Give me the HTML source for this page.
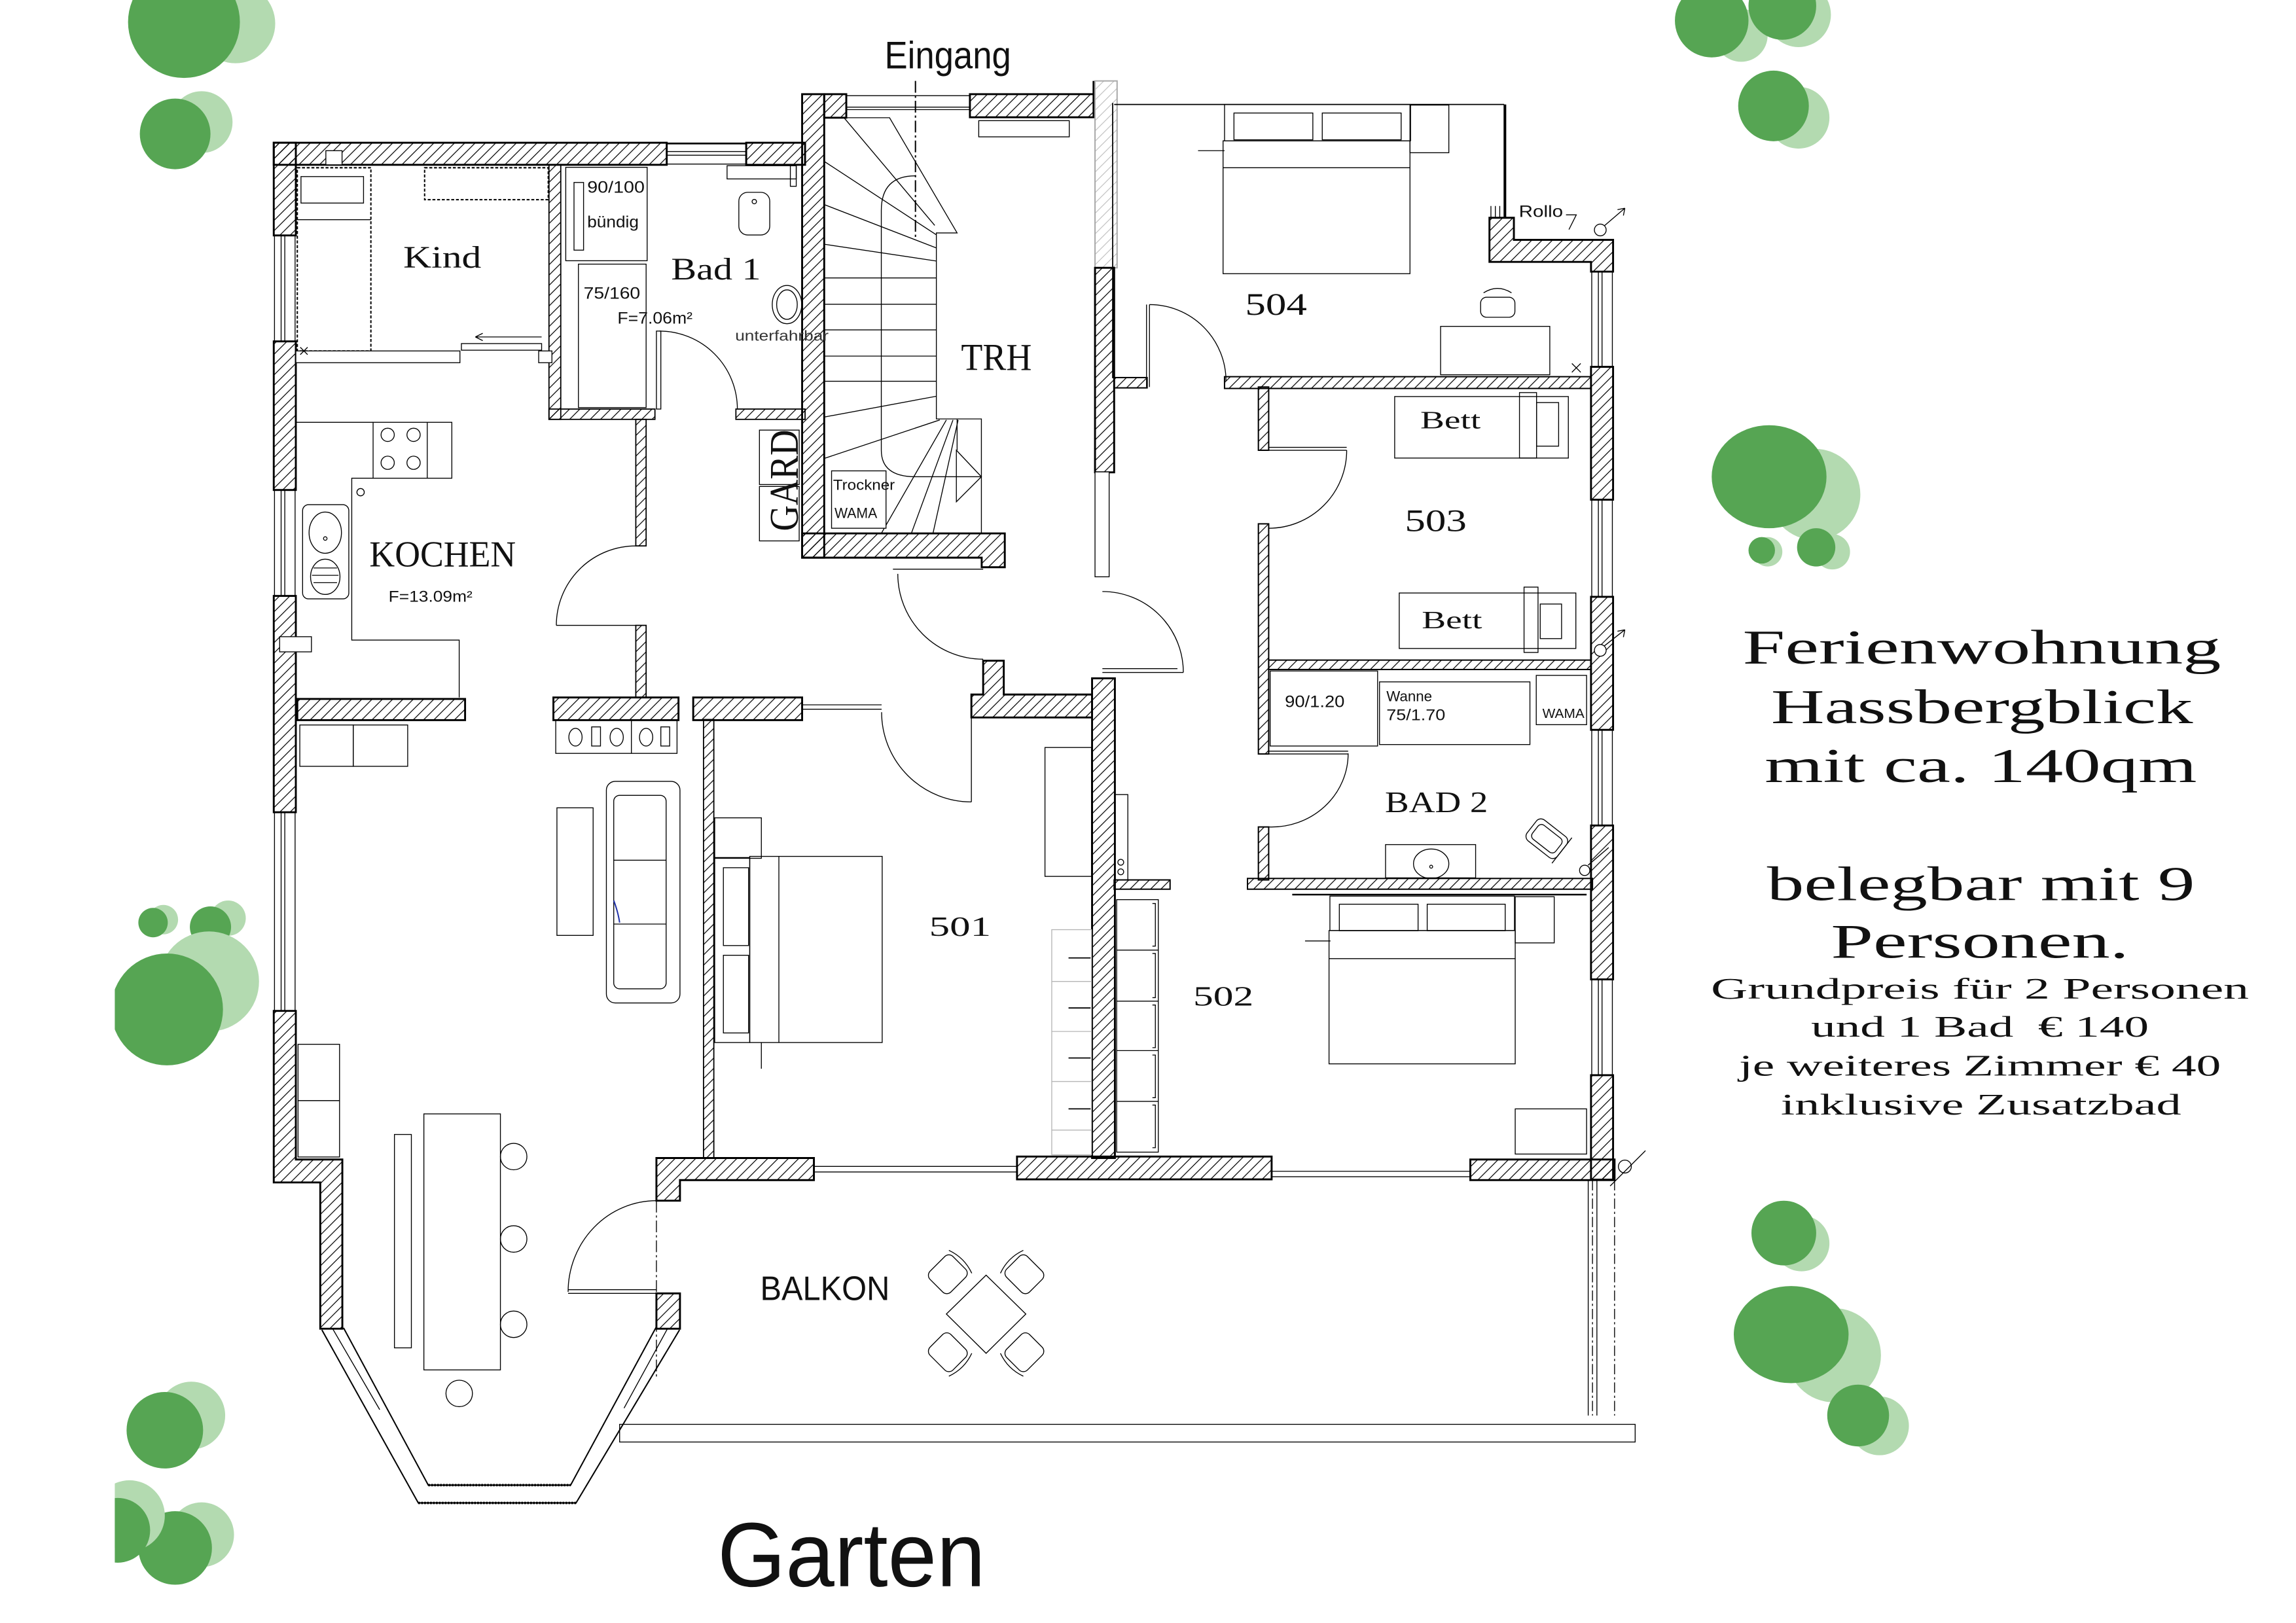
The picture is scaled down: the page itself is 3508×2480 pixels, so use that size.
<!DOCTYPE html>
<html><head><meta charset="utf-8"><style>
html,body{margin:0;padding:0;background:#fff;}
svg{display:block}
.w{fill:url(#h);stroke:#000;stroke-width:1.3}
.wg{fill:url(#hg);stroke:#aaa;stroke-width:0.9}
.t{fill:none;stroke:#000;stroke-width:0.6}
.f{fill:#fff;stroke:#000;stroke-width:0.6}
.b{fill:none;stroke:#000;stroke-width:1.4}
.g{fill:none;stroke:#b5b5b5;stroke-width:0.6}
.se{font-family:"Liberation Serif",serif;fill:#111}
.sa{font-family:"Liberation Sans",sans-serif;fill:#111}
.lt{fill:#b3dab0}
.dk{fill:#56a553}
</style></head><body>
<svg width="3508" height="2480" viewBox="0 0 1560 1103" preserveAspectRatio="none" xmlns="http://www.w3.org/2000/svg">
<defs>
<pattern id="h" patternUnits="userSpaceOnUse" width="7" height="7">
<path d="M-1,8 L8,-1 M-1,1 L1,-1 M6,8 L8,6" stroke="#000" stroke-width="0.55"/>
</pattern>
<pattern id="hg" patternUnits="userSpaceOnUse" width="7" height="7">
<path d="M-1,8 L8,-1 M-1,1 L1,-1 M6,8 L8,6" stroke="#bbb" stroke-width="0.5"/>
</pattern>
<clipPath id="lc"><rect x="78" y="0" width="1482" height="1103"/></clipPath>
</defs>
<rect x="0" y="0" width="1560" height="1103" fill="#fff"/>

<!-- TREES -->
<g clip-path="url(#lc)">
<circle class="lt" cx="160" cy="16" r="27"/><circle class="dk" cx="125" cy="15" r="38"/>
<circle class="lt" cx="137" cy="83" r="21"/><circle class="dk" cx="119" cy="91" r="24"/>
<circle class="lt" cx="111" cy="625" r="10"/><circle class="dk" cx="104" cy="627" r="10"/>
<circle class="lt" cx="155" cy="624" r="12"/><circle class="dk" cx="143" cy="630" r="14"/>
<circle class="lt" cx="142" cy="667" r="34"/><circle class="dk" cx="113.5" cy="686" r="38"/>
<circle class="lt" cx="130" cy="962" r="23"/><circle class="dk" cx="112" cy="972" r="26"/>
<circle class="lt" cx="137" cy="1043" r="22"/><circle class="dk" cx="119" cy="1052" r="25"/>
<circle class="lt" cx="88" cy="1030" r="24"/><circle class="dk" cx="80" cy="1040" r="22"/>
<circle class="lt" cx="1183" cy="24" r="18"/><circle class="dk" cx="1163" cy="14" r="25"/>
<circle class="lt" cx="1222" cy="10" r="22"/><circle class="dk" cx="1211" cy="4" r="23"/>
<circle class="lt" cx="1222" cy="80" r="21"/><circle class="dk" cx="1205" cy="72" r="24"/>
<circle class="lt" cx="1233" cy="336" r="31"/><ellipse class="dk" cx="1202" cy="324" rx="39" ry="35"/>
<circle class="lt" cx="1201" cy="375" r="10"/><circle class="dk" cx="1197" cy="374" r="9"/>
<circle class="lt" cx="1245" cy="375" r="12"/><circle class="dk" cx="1234" cy="372" r="13"/>
<circle class="lt" cx="1224" cy="845" r="19"/><circle class="dk" cx="1212" cy="838" r="22"/>
<circle class="lt" cx="1246" cy="921" r="32"/><ellipse class="dk" cx="1217" cy="907" rx="39" ry="33"/>
<circle class="lt" cx="1277" cy="969" r="20"/><circle class="dk" cx="1262.5" cy="962" r="21"/>
</g>

<!-- WINDOWS -->
<g class="t">
<line x1="453" y1="97.5" x2="507" y2="97.5" stroke-width="1.2"/>
<line x1="453" y1="103" x2="507" y2="103"/><line x1="453" y1="105.5" x2="507" y2="105.5"/>
<line x1="453" y1="111.5" x2="507" y2="111.5"/>
<line x1="575" y1="65" x2="659" y2="65"/><line x1="575" y1="72.8" x2="659" y2="72.8"/><line x1="575" y1="74.5" x2="659" y2="74.5"/>
<path d="M186.5,160 V232 M191,160 V232 M193.5,160 V232 M200.5,160 V232"/>
<path d="M186.5,333 V405 M191,333 V405 M193.5,333 V405 M200.5,333 V405"/>
<path d="M186.5,552 V687 M191,552 V687 M193.5,552 V687 M200.5,552 V687"/>
<path d="M1081.5,184.6 V249.3 M1086,184.6 V249.3 M1088.5,184.6 V249.3 M1095.5,184.6 V249.3"/>
<path d="M1081.5,339.6 V405.6 M1086,339.6 V405.6 M1088.5,339.6 V405.6 M1095.5,339.6 V405.6"/>
<path d="M1081.5,496 V561 M1086,496 V561 M1088.5,496 V561 M1095.5,496 V561"/>
<path d="M1081.5,665.6 V730.7 M1086,665.6 V730.7 M1088.5,665.6 V730.7 M1095.5,665.6 V730.7"/>
<path d="M553,792.7 H691 M553,796.5 H691"/>
<path d="M864,796 H999 M864,799.7 H999"/>
<path d="M545,479 H599 M545,482 H599"/>
</g>

<!-- WALLS -->
<g>
<rect class="w" x="186" y="97" width="267" height="15"/>
<rect class="w" x="507" y="97" width="40" height="15"/>
<rect class="w" x="186" y="97" width="15" height="63"/>
<rect class="w" x="186" y="232" width="15" height="101"/>
<rect class="w" x="186" y="405" width="15" height="147"/>
<polygon class="w" points="186,687 201,687 201,788 232.6,788 232.6,903 217.6,903 217.6,803.6 186,803.6"/>
<rect class="w" x="446" y="879" width="16" height="24"/>
<polygon class="w" points="446,787 553,787 553,802 462,802 462,816 446,816"/>
<rect class="w" x="373" y="112" width="8" height="173" style="stroke-width:0.8"/>
<rect class="w" x="373" y="278" width="72" height="7" style="stroke-width:0.8"/>
<rect class="w" x="500" y="278" width="47" height="7" style="stroke-width:0.8"/>
<rect class="w" x="432" y="285" width="7" height="86" style="stroke-width:0.8"/>
<rect class="w" x="432" y="425" width="7" height="49" style="stroke-width:0.8"/>
<rect class="w" x="202" y="475" width="114" height="14.4"/>
<rect class="w" x="376" y="474" width="85" height="15.4"/>
<rect class="w" x="471" y="474" width="74" height="15.4"/>
<rect class="w" x="478" y="489" width="7" height="298" style="stroke-width:0.8"/>
<rect class="w" x="545" y="64" width="15" height="315"/>
<rect class="w" x="560" y="64" width="15" height="16"/>
<polygon class="w" points="545,362.5 682.7,362.5 682.7,385.5 667,385.5 667,379 545,379"/>
<rect class="w" x="659" y="64" width="84" height="15.7"/>
<line x1="743" y1="55" x2="743" y2="64" stroke="#000" stroke-width="1.3"/>
<rect class="wg" x="744" y="55" width="15" height="127"/>
<rect class="w" x="744" y="182" width="13" height="139"/>
<rect class="f" x="744" y="320.7" width="9.6" height="71.3"/>
<polygon class="w" points="668,449 682,449 682,472 742,472 742,487.6 660,487.6 660,472 668,472"/>
<rect class="w" x="742" y="461" width="15.5" height="326"/>
<rect class="w" x="691" y="786" width="173" height="15.5"/>
<rect class="w" x="999" y="788" width="98" height="14"/>
<polygon class="w" points="1012,148 1028.6,148 1028.6,163 1096,163 1096,184.6 1081,184.6 1081,178 1012,178"/>
<rect class="w" x="1081" y="249.3" width="15" height="90.3"/>
<rect class="w" x="1081" y="405.6" width="15" height="90.4"/>
<rect class="w" x="1081" y="561" width="15" height="104.6"/>
<rect class="w" x="1081" y="730.7" width="15" height="71"/>
<line x1="1022.5" y1="71" x2="1022.5" y2="148" stroke="#000" stroke-width="1.8"/>
<line x1="757" y1="71" x2="1022" y2="71" stroke="#000" stroke-width="0.8"/>
<line x1="756" y1="70" x2="756" y2="257" stroke="#000" stroke-width="0.8"/>
<rect class="w" x="832" y="256" width="249" height="8" style="stroke-width:0.9"/>
<rect class="w" x="757" y="256.6" width="22.4" height="7" style="stroke-width:0.9"/>
<rect class="w" x="855" y="263" width="7" height="43" style="stroke-width:0.9"/>
<rect class="w" x="855" y="356" width="7" height="156.4" style="stroke-width:0.9"/>
<rect class="w" x="855" y="562" width="7" height="36" style="stroke-width:0.9"/>
<rect class="w" x="862" y="448.6" width="219" height="6.4" style="stroke-width:0.9"/>
<rect class="w" x="847.6" y="597" width="234.4" height="7.3" style="stroke-width:0.9"/>
<rect class="w" x="757" y="598" width="38" height="6.3" style="stroke-width:0.9"/>
</g>

<!-- DOORS -->
<g class="t">
<rect class="f" x="446" y="225" width="3" height="53"/>
<path d="M448,225 A53,53 0 0 1 501,278"/>
<path d="M378,425 H432"/>
<path d="M378,425 A54,54 0 0 1 432,371"/>
<path d="M386,876.5 H446 M386,879 H446"/>
<path d="M386,878 A60,62 0 0 1 446,816"/>
<path d="M606.7,386.8 H668"/>
<path d="M610,390 A58,58 0 0 0 668,448"/>
<path d="M660,484 V545"/>
<path d="M599,484 A61,61 0 0 0 660,545"/>
<path d="M749,457 H804 M749,454.4 H800"/>
<path d="M804,457 A55,55 0 0 0 749,402"/>
<path d="M779,207 V263 M781,207 V263"/>
<path d="M781,207 A52,52 0 0 1 833,259"/>
<path d="M862,306 H915 M862,304 H915"/>
<path d="M915,306 A53,53 0 0 1 862,359"/>
<path d="M862,512.4 H916 M862,510.5 H916"/>
<path d="M916,512 A52,50 0 0 1 862,562"/>
<path d="M446,816 V937" stroke-dasharray="8 2 1.5 2"/>
<path d="M622,55 V161" stroke-dasharray="8 2 1.5 2" stroke-width="0.9"/>
</g>

<!-- STAIRS -->
<g class="t">
<path d="M560,80 H604.4 L650.3,158.3 H636.2 V284.7 H666.8 V362.5"/>
<path d="M573.8,80.4 L635.1,153.2 M560.2,109.8 L636.2,159.6 M560.2,139.1 L636.2,168.5 M560.2,166 L636.2,177.4"/>
<path d="M560,188.9 H636 M560,206.8 H636 M560,224.2 H636 M560,242 H636 M560,259.1 H636"/>
<path d="M560.2,283.4 L636.2,269.3 M560.2,311.5 L638.5,285.4 M598.8,362.5 L643,285.4 M619.2,362.5 L647.5,285.4 M633.9,362.5 L651,285.4"/>
<path d="M622,119.5 Q598.8,119.5 598.8,143 L598.8,306 Q598.8,324 622,324 L666.8,324"/>
<path d="M649.8,306 L666.8,324 L649.8,341 Z M650.3,285 V306"/>
<rect class="f" x="565" y="320" width="37" height="39"/>
<rect x="516" y="292.3" width="27" height="37"/>
<rect x="516" y="330.6" width="27" height="37"/>
<rect class="f" x="665" y="82" width="61.5" height="11"/>
</g>

<!-- KIND -->
<g class="t">
<rect x="202" y="114" width="50" height="124.5" stroke-dasharray="2 1.2" stroke-width="0.9"/>
<rect x="204.5" y="120" width="42.5" height="18"/>
<line x1="202" y1="149.3" x2="252" y2="149.3"/>
<rect x="288.5" y="114" width="84" height="21.7" stroke-dasharray="2 1.2" stroke-width="0.9"/>
<rect class="f" x="221.4" y="102.4" width="11" height="9.6"/>
<rect class="f" x="201" y="238.5" width="111.5" height="8"/>
<rect class="f" x="313.5" y="233.5" width="54.5" height="4.5"/>
<rect class="f" x="366" y="238.5" width="9" height="8"/>
<path d="M368,229 H323 M323,229 l5,-2.5 M323,229 l5,2.5"/>
<path d="M204,236 l5,5 M209,236 l-5,5"/>
</g>

<!-- BAD 1 -->
<g class="t">
<rect x="384.4" y="113.7" width="55.3" height="63.5"/>
<rect x="390" y="124" width="6.5" height="46"/>
<rect x="393" y="179.5" width="46" height="97.5"/>
<rect x="494" y="112.6" width="47" height="9"/>
<rect x="537" y="112.6" width="4" height="14"/>
<rect x="502" y="130.7" width="21" height="29" rx="6"/>
<circle cx="512.5" cy="137" r="1.5"/>
<ellipse cx="534.7" cy="207" rx="10" ry="13"/>
<ellipse cx="534.7" cy="207" rx="7" ry="10"/>
</g>

<!-- KITCHEN -->
<g class="t">
<rect x="253.5" y="287" width="53.5" height="38"/>
<line x1="290.3" y1="287" x2="290.3" y2="325"/>
<circle cx="263.4" cy="295.5" r="4.5"/><circle cx="281" cy="295.5" r="4.5"/>
<circle cx="263.4" cy="314.5" r="4.5"/><circle cx="281" cy="314.5" r="4.5"/>
<path d="M201,287 H253.5 M253.5,325 H239 V435 H312 V474"/>
<circle cx="245" cy="334.5" r="2.5"/>
<rect x="205.6" y="343" width="31.4" height="64" rx="4"/>
<ellipse cx="221" cy="362" rx="11" ry="14"/>
<ellipse cx="221" cy="392" rx="10" ry="12"/>
<path d="M213,386 H229 M212,391 H230 M213,396 H229"/>
<circle cx="221" cy="366" r="1.2"/>
<rect class="f" x="190" y="432.7" width="21.6" height="10.3"/>
</g>

<!-- LIVING -->
<g class="t">
<rect x="203.7" y="492.7" width="36.3" height="28.1"/>
<rect x="240" y="492.7" width="37" height="28.1"/>
<rect x="377.6" y="489.4" width="82.4" height="22.6"/>
<line x1="429" y1="489.4" x2="429" y2="512"/>
<ellipse cx="391" cy="501" rx="4.5" ry="6"/>
<rect x="402" y="494" width="6" height="13"/>
<ellipse cx="419" cy="501" rx="4.5" ry="6"/>
<ellipse cx="439" cy="501" rx="4.5" ry="6"/>
<rect x="449" y="494" width="6" height="13"/>
<rect x="412" y="531" width="50" height="150.6" rx="6"/>
<rect x="417" y="540.5" width="35.6" height="131.5" rx="4"/>
<path d="M417,584.6 H452.6 M417,628 H452.6"/>
<path d="M417,612 Q420,620 421,627" stroke="#2233aa" stroke-width="0.9"/>
<rect x="378.4" y="549" width="24.6" height="86.7"/>
<rect x="202.5" y="709.7" width="28.2" height="38.3"/>
<rect x="202.5" y="748" width="28.2" height="38.3"/>
<rect x="288" y="757" width="52" height="174"/>
<rect x="268" y="771" width="11.5" height="145"/>
<circle cx="349" cy="786" r="9"/><circle cx="349" cy="842" r="9"/>
<circle cx="349" cy="900" r="9"/><circle cx="312" cy="947" r="9"/>
</g>

<!-- BAY WINDOW -->
<g class="t">
<path d="M218.7,903.8 L284.2,1021.4 L391.4,1021.4 L461.7,903.8" stroke-width="0.9"/>
<path d="M233.4,902.4 L291,1009.3 L387.7,1009.3 L445.8,902" stroke-width="0.9"/>
<path d="M226,903 L258,958 M453.5,903 L424,957"/>
<path d="M284.2,1021.4 L391.4,1021.4 M291,1009.3 L387.7,1009.3" stroke-dasharray="1.2 0.8" stroke-width="1.6"/>
</g>

<!-- BALCONY -->
<g class="t">
<rect x="421" y="968" width="690" height="12"/>
<polygon points="670,866.6 697,893 670,919.7 643,893"/>
<g transform="translate(644,866) rotate(45)"><rect x="-10" y="-11" width="20" height="22" rx="4"/><path d="M-11,-12 Q0,-16 11,-12"/></g>
<g transform="translate(696,866) rotate(-45)"><rect x="-10" y="-11" width="20" height="22" rx="4"/><path d="M-11,-12 Q0,-16 11,-12"/></g>
<g transform="translate(644,919) rotate(135)"><rect x="-10" y="-11" width="20" height="22" rx="4"/><path d="M-11,-12 Q0,-16 11,-12"/></g>
<g transform="translate(696,919) rotate(-135)"><rect x="-10" y="-11" width="20" height="22" rx="4"/><path d="M-11,-12 Q0,-16 11,-12"/></g>
<path d="M1079.1,802 V962 M1085,802 V962"/>
<path d="M1082,802 V962 M1097,802 V962" stroke-dasharray="7 2 1.5 2"/>
<circle cx="1104" cy="792.8" r="4.4" class="f"/>
<path d="M1094,806 L1118,782"/>
</g>

<!-- 501 -->
<g class="t">
<rect x="485.6" y="555.8" width="31.7" height="27.5"/>
<rect x="485.6" y="582.8" width="23.8" height="125.7"/>
<rect x="491.5" y="589.7" width="17.1" height="52.9"/>
<rect x="491.5" y="649.2" width="17.1" height="52.8"/>
<rect x="509.4" y="582" width="90" height="126.5"/>
<line x1="529.2" y1="582" x2="529.2" y2="708.5"/>
<line x1="517.3" y1="708.5" x2="517.3" y2="726.3"/>
<rect x="710" y="508" width="31.6" height="87.6"/>
</g>
<g class="g">
<rect x="714.6" y="631.8" width="27" height="153"/>
<path d="M714.6,667 H741.6 M714.6,701 H741.6 M714.6,735 H741.6 M714.6,768 H741.6"/>
</g>
<path d="M726,651 H741 M726,685 H741 M726,719 H741 M726,753.6 H741" stroke="#000" stroke-width="0.8"/>

<!-- 502 -->
<g class="t">
<rect x="758.7" y="611.4" width="28.3" height="171.6"/>
<path d="M758.7,645.7 H787 M758.7,680.4 H787 M758.7,714 H787 M758.7,748.5 H787"/>
<path d="M783,614 H785 V643 H783 M783,648 H785 V678 H783 M783,683 H785 V712 H783 M783,717 H785 V746 H783 M783,751 H785 V780 H783"/>
<rect x="757.3" y="540" width="9" height="58"/>
<circle cx="761.5" cy="586" r="2"/><circle cx="761.5" cy="592.5" r="2"/>
<line x1="878" y1="608" x2="1078" y2="608" stroke-width="1.1"/>
<rect class="f" x="903.6" y="609" width="125.4" height="23.4"/>
<rect x="910" y="614.5" width="53.5" height="18"/>
<rect x="969.7" y="614.5" width="53" height="18"/>
<rect x="903" y="632.4" width="126.5" height="90.6"/>
<line x1="903" y1="651.5" x2="1029.5" y2="651.5"/>
<rect x="1029.5" y="609.4" width="26.5" height="31.4"/>
<line x1="886.7" y1="639.5" x2="904" y2="639.5"/>
<rect x="1029.5" y="753.6" width="48.5" height="30.7"/>
</g>

<!-- 504 -->
<g class="t">
<rect x="832" y="71" width="126.4" height="24.7"/>
<rect x="838.4" y="76.8" width="53.6" height="18.2"/>
<rect x="898.4" y="76.8" width="53.6" height="18.2"/>
<rect x="831" y="95.7" width="127" height="90.3"/>
<line x1="831" y1="114" x2="958" y2="114"/>
<rect x="958" y="71.4" width="26.4" height="32.4"/>
<line x1="814" y1="102.4" x2="832" y2="102.4"/>
<rect x="1006" y="202" width="23.3" height="13.6" rx="4"/>
<path d="M1008,199 Q1017.5,193 1027,199"/>
<rect x="978.8" y="221.8" width="74.2" height="32.9"/>
<path d="M1068,247 l6,6 M1074,247 l-6,6"/>
<path d="M1013,140 V148 M1016,140 V148 M1019,140 V148"/>
<path d="M1064,146 H1071 L1066,156"/>
<circle class="f" cx="1087.3" cy="156.3" r="4"/>
<path d="M1090,153.5 L1104,141.5 M1104,141.5 l-5,1 M1104,141.5 l-1,5"/>
<circle class="f" cx="1087.3" cy="442" r="4"/>
<path d="M1090,439 L1104,428 M1104,428 l-5,1 M1104,428 l-1,5"/>
</g>

<!-- 503 -->
<g class="t">
<rect x="947.6" y="269.5" width="118" height="41.8"/>
<rect x="1032.4" y="266.8" width="11.6" height="44.5"/>
<rect x="1044" y="273.6" width="15" height="29.6"/>
<rect x="950.7" y="403" width="120" height="37.7"/>
<rect x="1035.5" y="399" width="9.5" height="44.4"/>
<rect x="1046.5" y="410.5" width="14.5" height="23.5"/>
</g>

<!-- BAD 2 -->
<g class="t">
<rect x="863" y="456" width="73" height="51"/>
<rect x="937.3" y="463.4" width="102.2" height="42.6"/>
<rect x="1043.8" y="459" width="34.2" height="33.5"/>
<rect x="941.4" y="574" width="61.2" height="22.6"/>
<ellipse cx="972.4" cy="587" rx="12" ry="10"/>
<circle cx="972.4" cy="589" r="1"/>
<g transform="translate(1051,570) rotate(38)"><rect x="-13" y="-9" width="26" height="18" rx="4"/><rect x="-10" y="-6" width="20" height="12" rx="3"/><path d="M13,-11 V11"/></g>
<circle class="f" cx="1076.7" cy="591.5" r="3.5"/>
<path d="M1079,588 L1093,576"/>
</g>

<!-- LABELS -->
<g class="se">
<text x="274" y="182" font-size="21" textLength="53" lengthAdjust="spacingAndGlyphs">Kind</text>
<text x="456" y="190" font-size="21" textLength="61" lengthAdjust="spacingAndGlyphs">Bad 1</text>
<text x="653" y="251.5" font-size="26" textLength="48" lengthAdjust="spacingAndGlyphs">TRH</text>
<text x="251" y="385" font-size="25" textLength="99.5" lengthAdjust="spacingAndGlyphs">KOCHEN</text>
<text x="846" y="214" font-size="21" textLength="42" lengthAdjust="spacingAndGlyphs">504</text>
<text x="965" y="291" font-size="17" textLength="41" lengthAdjust="spacingAndGlyphs">Bett</text>
<text x="954.5" y="361" font-size="21" textLength="42" lengthAdjust="spacingAndGlyphs">503</text>
<text x="966" y="427" font-size="17" textLength="41" lengthAdjust="spacingAndGlyphs">Bett</text>
<text x="941" y="552" font-size="20" textLength="70" lengthAdjust="spacingAndGlyphs">BAD 2</text>
<text x="631.3" y="636" font-size="19" textLength="42" lengthAdjust="spacingAndGlyphs">501</text>
<text x="810.7" y="683.4" font-size="19" textLength="41" lengthAdjust="spacingAndGlyphs">502</text>
<text transform="translate(542,361) rotate(-90)" font-size="28" textLength="69" lengthAdjust="spacingAndGlyphs">GARD</text>
</g>
<g class="sa">
<text x="264" y="409" font-size="10.5" textLength="57" lengthAdjust="spacingAndGlyphs">F=13.09m²</text>
<text x="516.5" y="883.5" font-size="23" textLength="88" lengthAdjust="spacingAndGlyphs">BALKON</text>
<text x="487.5" y="1078" font-size="62" textLength="182" lengthAdjust="spacingAndGlyphs">Garten</text>
<text x="601" y="46.5" font-size="26" textLength="86" lengthAdjust="spacingAndGlyphs">Eingang</text>
<text x="399" y="131" font-size="11" textLength="39" lengthAdjust="spacingAndGlyphs">90/100</text>
<text x="399" y="154.5" font-size="11" textLength="35" lengthAdjust="spacingAndGlyphs">bündig</text>
<text x="396.5" y="203" font-size="11" textLength="38.5" lengthAdjust="spacingAndGlyphs">75/160</text>
<text x="419.5" y="220" font-size="11" textLength="51" lengthAdjust="spacingAndGlyphs">F=7.06m²</text>
<text x="499.5" y="231.6" font-size="10" textLength="63.5" lengthAdjust="spacingAndGlyphs" fill="#333">unterfahrbar</text>
<text x="566" y="333" font-size="10" textLength="42" lengthAdjust="spacingAndGlyphs">Trockner</text>
<text x="567" y="352" font-size="10" textLength="29" lengthAdjust="spacingAndGlyphs">WAMA</text>
<text x="873" y="480.5" font-size="11" textLength="40.6" lengthAdjust="spacingAndGlyphs">90/1.20</text>
<text x="942" y="476.6" font-size="10" textLength="31" lengthAdjust="spacingAndGlyphs">Wanne</text>
<text x="942" y="489.4" font-size="10.5" textLength="40" lengthAdjust="spacingAndGlyphs">75/1.70</text>
<text x="1048" y="488" font-size="9" textLength="28.5" lengthAdjust="spacingAndGlyphs">WAMA</text>
<text x="1032" y="147.5" font-size="11" textLength="30" lengthAdjust="spacingAndGlyphs">Rollo</text>
</g>

<!-- RIGHT TEXT BLOCK -->
<g class="se">
<text x="1184" y="451" font-size="33" textLength="325" lengthAdjust="spacingAndGlyphs">Ferienwohnung</text>
<text x="1203.3" y="491.4" font-size="33" textLength="286.7" lengthAdjust="spacingAndGlyphs">Hassbergblick</text>
<text x="1199" y="531.6" font-size="33" textLength="293.6" lengthAdjust="spacingAndGlyphs">mit ca. 140qm</text>
<text x="1200.6" y="611.8" font-size="33" textLength="290.7" lengthAdjust="spacingAndGlyphs">belegbar mit 9</text>
<text x="1244" y="650.8" font-size="33" textLength="202.5" lengthAdjust="spacingAndGlyphs">Personen.</text>
<text x="1162.5" y="678.6" font-size="20" textLength="365.5" lengthAdjust="spacingAndGlyphs">Grundpreis für 2 Personen</text>
<text x="1230.5" y="704.4" font-size="20" textLength="229.5" lengthAdjust="spacingAndGlyphs">und 1 Bad &#160;€ 140</text>
<text x="1181.5" y="731" font-size="20" textLength="327.5" lengthAdjust="spacingAndGlyphs">je weiteres Zimmer € 40</text>
<text x="1210" y="757.4" font-size="20" textLength="272" lengthAdjust="spacingAndGlyphs">inklusive Zusatzbad</text>
</g>
</svg>
</body></html>
